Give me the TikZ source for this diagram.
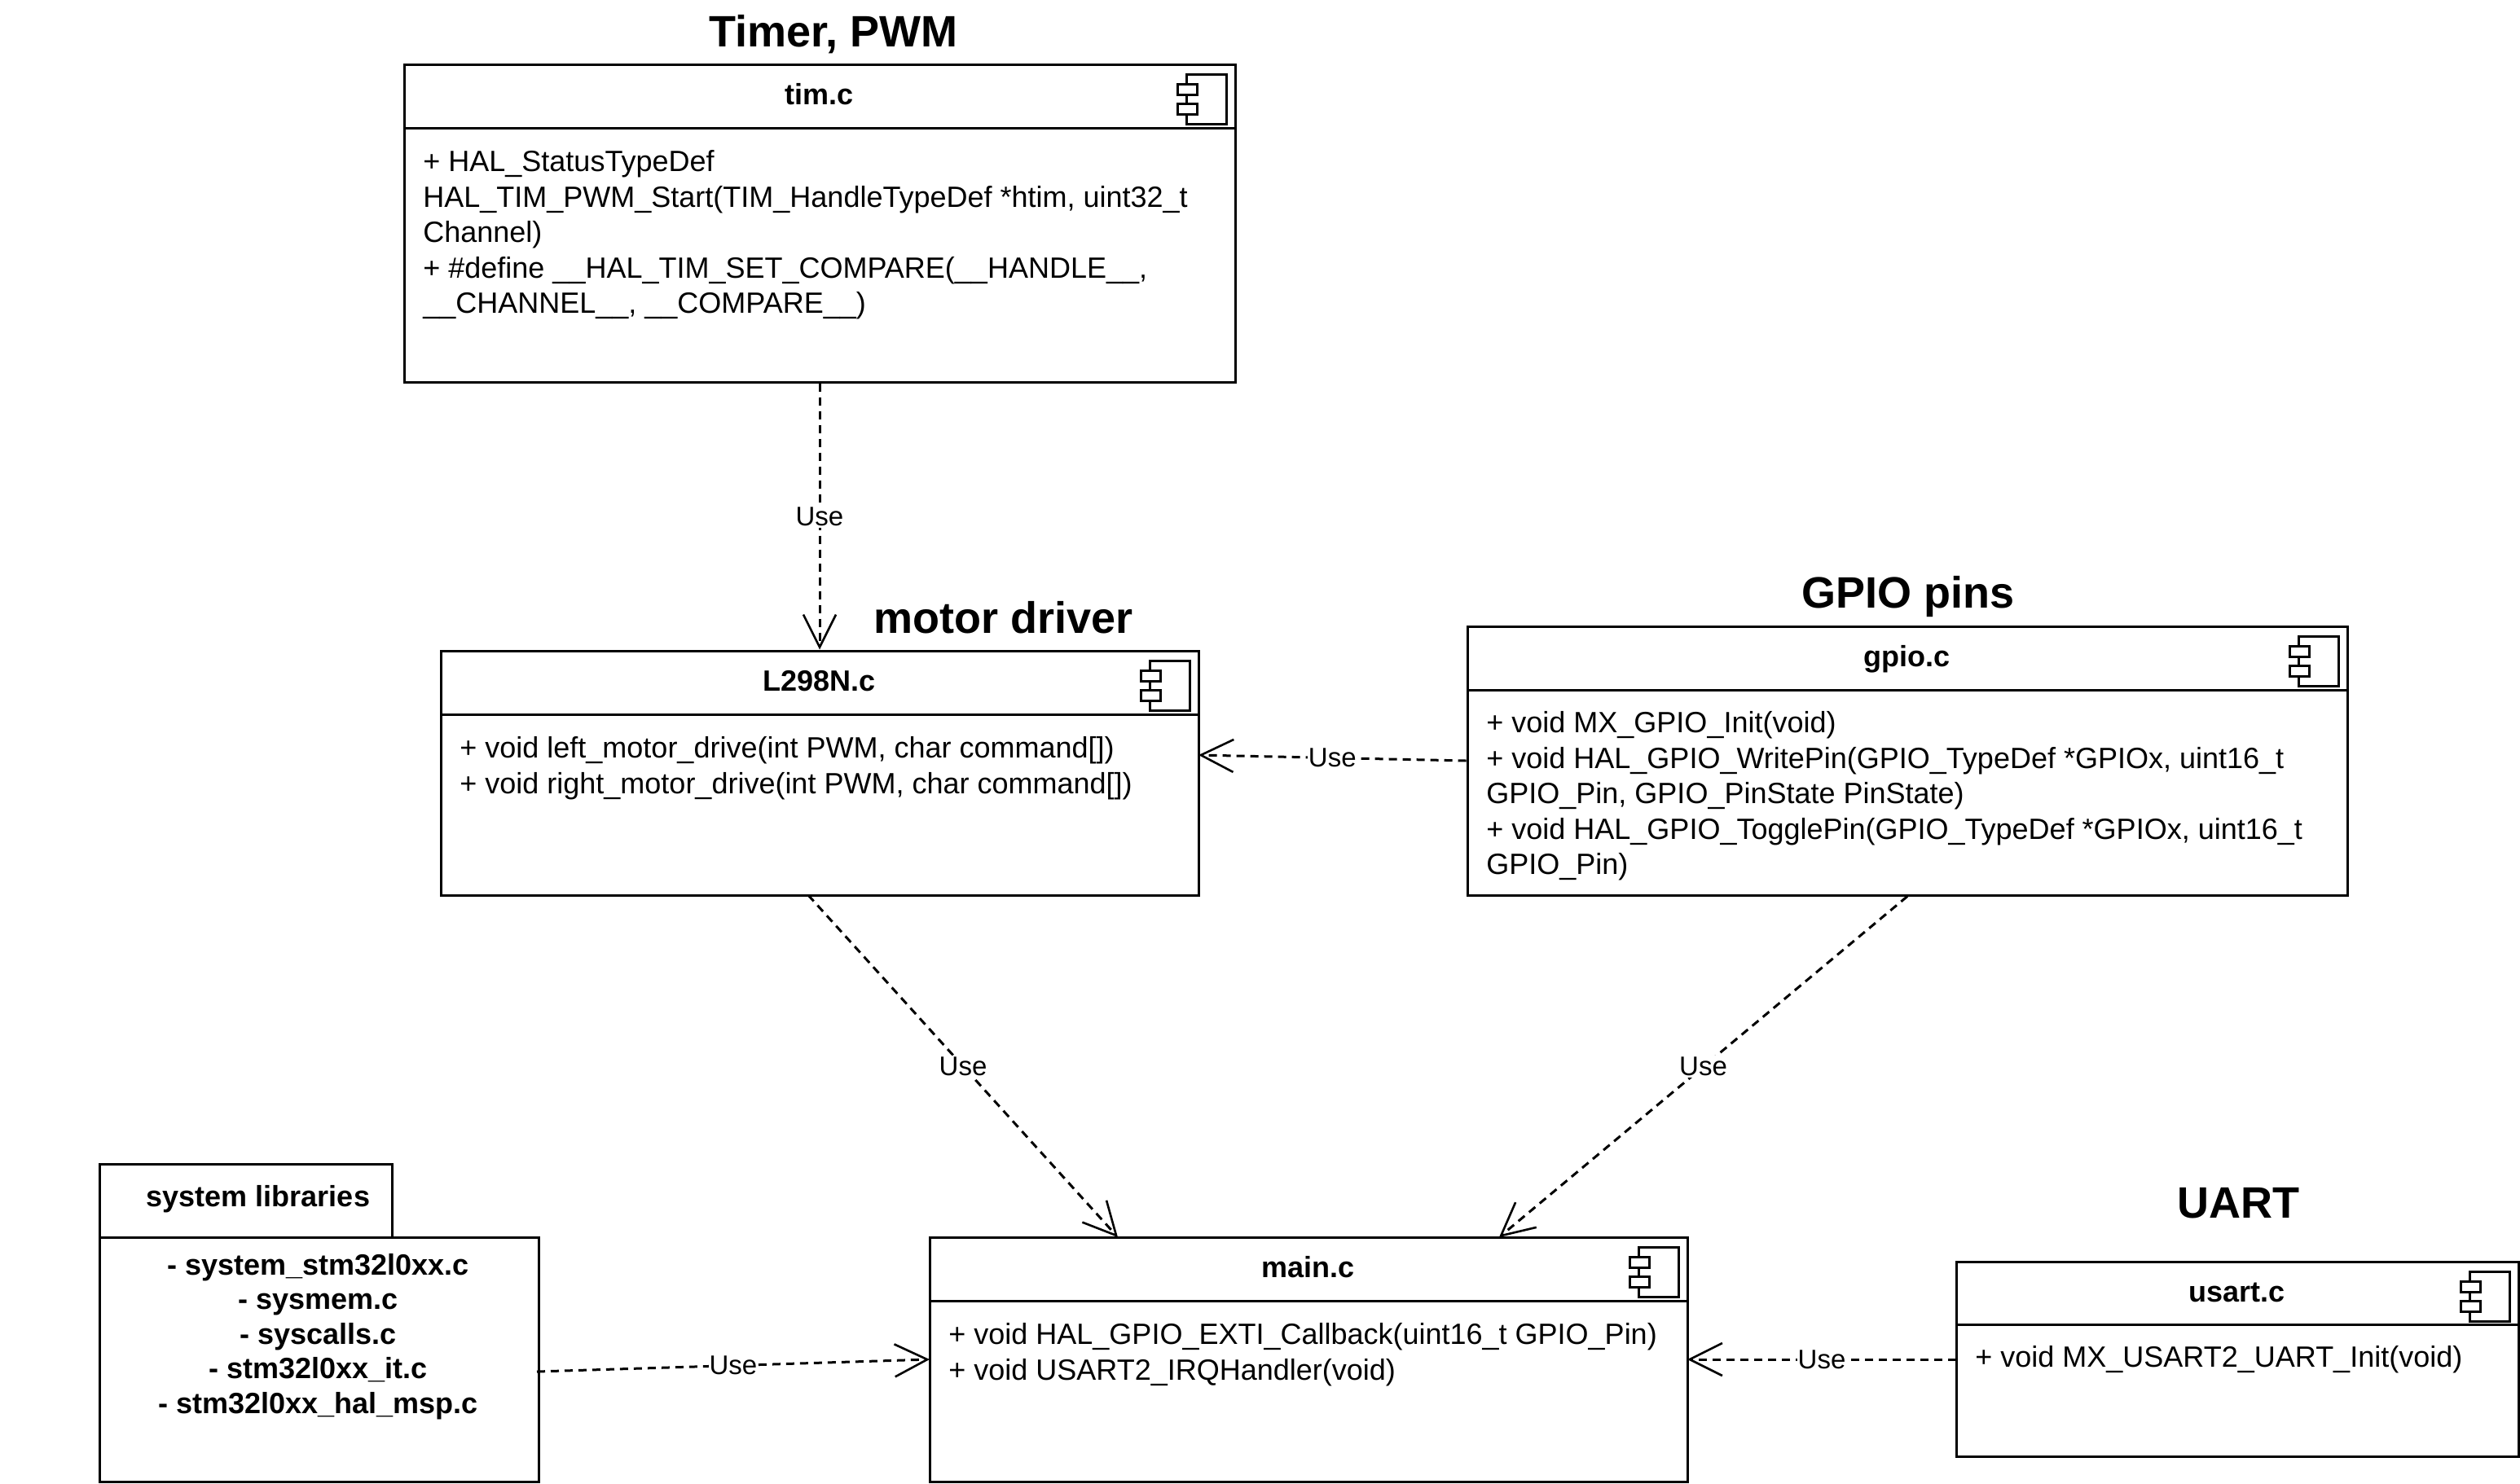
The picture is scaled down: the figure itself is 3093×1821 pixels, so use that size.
\documentclass[tikz,border=0pt]{standalone}
\usepackage{fontspec}
\setmainfont{Liberation Sans}
\usetikzlibrary{arrows.meta,fit}
\tikzset{
  x=0.5pt,y=-0.5pt,
  boxn/.style={draw=black,line width=1.5pt,inner sep=0pt,fill=white},
  sepline/.style={draw=black,line width=1.5pt},
  iconline/.style={draw=black,line width=1.5pt},
  ctitle/.style={font=\fontsize{18}{21}\selectfont\bfseries,anchor=base,inner sep=0pt},
  bodyt/.style={font=\fontsize{18}{21.8}\selectfont,anchor=north west,align=left,inner sep=0pt},
  bigt/.style={font=\fontsize{27}{32}\selectfont\bfseries,anchor=base,inner sep=0pt},
  libt/.style={font=\fontsize{18}{21.25}\selectfont\bfseries,align=center,anchor=north,inner sep=0pt},
  uselink/.style={draw=black,line width=1.5pt,dash pattern=on 5pt off 3.5pt,
    -{Straight Barb[length=20pt,width=20pt,line width=1.3pt]}},
  uselabel/.style={font=\fontsize{16.5}{20}\selectfont,fill=white,inner xsep=0.5pt,inner ysep=1pt,pos=0.5},
}
% name, left, top, right, bottom, header y, title
\newcommand{\compbox}[7]{%
  \node[boxn,fit={(#2,#3)(#4,#5)}] (#1) {};
  \draw[sepline] (#2,#6) -- (#4,#6);
  \node[ctitle] (#1title) at ({(#2+#4)/2-0.5},#3+49) {#7};
  \begin{scope}[shift={(#4,#3)}]
    \draw[iconline] (-60,12) rectangle (-11,73);
    \draw[iconline,fill=white] (-71,24) rectangle (-47,37);
    \draw[iconline,fill=white] (-71,48) rectangle (-47,61);
  \end{scope}
}
\newcommand{\bodytext}[4]{\node[bodyt] (#1) at (#2,#3-30.52) {\strut #4};}
\begin{document}
\begin{tikzpicture}
\useasboundingbox (0,0) rectangle (3093,1821);
\fill[white] (0,0) rectangle (3093,1821);

\node[bigt] (ttim) at (1023,57) {Timer, PWM};
\node[bigt] (tmotor) at (1232,777) {motor driver};
\node[bigt] (tgpio) at (2342,746) {GPIO pins};
\node[bigt] (tuart) at (2747,1495) {UART};

\compbox{tim}{496}{79}{1516}{469}{157}{tim.c}
\bodytext{timb}{519}{210}{+ HAL\_StatusTypeDef\\HAL\_TIM\_PWM\_Start(TIM\_HandleTypeDef *htim, uint32\_t\\Channel)\\+ \#define \_\_HAL\_TIM\_SET\_COMPARE(\_\_HANDLE\_\_,\\\_\_CHANNEL\_\_, \_\_COMPARE\_\_)}

\compbox{l298}{541}{799}{1471}{1099}{877}{L298N.c}
\bodytext{l298b}{564}{930}{+ void left\_motor\_drive(int PWM, char command[])\\+ void right\_motor\_drive(int PWM, char command[])}

\compbox{gpio}{1801}{769}{2881}{1099}{847}{gpio.c}
\bodytext{gpiob}{1824}{899}{+ void MX\_GPIO\_Init(void)\\+ void HAL\_GPIO\_WritePin(GPIO\_TypeDef *GPIOx, uint16\_t\\GPIO\_Pin, GPIO\_PinState PinState)\\+ void HAL\_GPIO\_TogglePin(GPIO\_TypeDef *GPIOx, uint16\_t\\GPIO\_Pin)}

\compbox{main}{1141}{1519}{2071}{1819}{1597}{main.c}
\bodytext{mainb}{1164}{1650}{+ void HAL\_GPIO\_EXTI\_Callback(uint16\_t GPIO\_Pin)\\+ void USART2\_IRQHandler(void)}

\compbox{usart}{2401}{1549}{3091}{1788}{1626}{usart.c}
\bodytext{usartb}{2424}{1678}{+ void MX\_USART2\_UART\_Init(void)}

\node[boxn,fit={(122,1429)(481,1519)}] (systab) {};
\node[boxn,fit={(122,1519)(661,1819)}] (sysbody) {};
\node[ctitle] (systitle) at (317,1481) {system libraries};
\node[libt] (syslist) at (390.5,1535) {\strut - system\_stm32l0xx.c\\- sysmem.c\\- syscalls.c\\- stm32l0xx\_it.c\\- stm32l0xx\_hal\_msp.c};

\coordinate (l298in) at (1471,927);
\coordinate (l298out) at (992,1099);
\coordinate (maina) at (1372,1519);
\coordinate (mainbt) at (1840,1519);
\coordinate (mainc) at (1141,1669);
\coordinate (maind) at (2071,1669);
\coordinate (sysout) at (659,1684);
\coordinate (usartout) at (2401,1669);

\draw[uselink] (tim.south) -- node[uselabel] (u1) {Use} (l298.north);
\draw[uselink] (gpio.west) -- node[uselabel] (u2) {Use} (l298in);
\draw[uselink] (l298out) -- node[uselabel] (u3) {Use} (maina);
\draw[uselink] (gpio.south) -- node[uselabel] (u4) {Use} (mainbt);
\draw[uselink] (sysout) -- node[uselabel] (u5) {Use} (mainc);
\draw[uselink] (usartout) -- node[uselabel] (u6) {Use} (maind);
\end{tikzpicture}
\end{document}
